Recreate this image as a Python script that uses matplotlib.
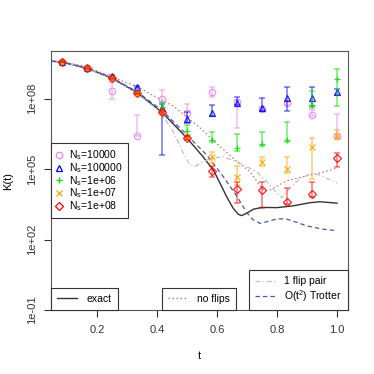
import numpy as np
import matplotlib
matplotlib.use('Agg')
import matplotlib.pyplot as plt
from matplotlib.lines import Line2D

plt.rcParams['font.family'] = ['Liberation Sans', 'DejaVu Sans']
plt.rcParams['mathtext.fontset'] = 'custom'
plt.rcParams['mathtext.rm'] = 'Liberation Sans'
plt.rcParams['mathtext.it'] = 'Liberation Sans:italic'

# sampled times t = k/12
t_pts = np.arange(1, 13) / 12.0

# log10 K(t) per sample size: point, lower end, upper end of error bar
ns_labels = [r'N$_\mathrm{s}$=10000', r'N$_\mathrm{s}$=100000', r'N$_\mathrm{s}$=1e+06',
             r'N$_\mathrm{s}$=1e+07', r'N$_\mathrm{s}$=1e+08']

ns1e4 = [9.56, 9.29, 8.34, 6.41, 8.00, 7.38, 8.30, 7.85, 7.57, 7.82, 7.31, 6.41]
ns1e4_lo = [9.55, 9.28, 7.97, 6.41, 7.52, 7.02, 8.09, 6.75, 7.50, 7.75, 7.25, 6.35]
ns1e4_hi = [9.57, 9.30, 8.72, 7.30, 8.37, 7.76, 8.48, 7.95, 7.65, 7.90, 7.50, 7.33]

ns1e5 = [9.56, 9.29, 8.95, 8.49, 7.60, 7.12, 7.39, 7.82, 7.62, 8.05, 8.04, 8.28]
ns1e5_lo = [9.55, 9.28, 8.90, 8.45, 5.60, 6.98, 7.27, 7.72, 7.48, 7.48, 7.69, 8.15]
ns1e5_hi = [9.57, 9.30, 9.00, 8.53, 7.78, 7.42, 7.75, 8.08, 8.04, 8.50, 8.50, 8.42]

ns1e6 = [9.56, 9.29, 8.87, 8.25, 7.65, 6.62, 6.24, 5.89, 6.08, 6.25, 7.72, 8.85]
ns1e6_lo = [9.55, 9.28, 8.85, 8.22, 7.45, 6.35, 6.17, 5.78, 6.00, 6.17, 7.62, 7.69]
ns1e6_hi = [9.57, 9.30, 8.89, 8.28, 7.85, 6.90, 6.58, 6.50, 6.60, 7.02, 8.33, 9.25]

ns1e7 = [9.56, 9.29, 8.87, 8.23, 7.42, 6.38, 5.53, 4.67, 5.29, 4.99, 5.96, 6.41]
ns1e7_lo = [9.55, 9.28, 8.85, 8.20, 7.38, 6.30, 5.25, 4.33, 5.14, 4.84, 4.60, 6.27]
ns1e7_hi = [9.57, 9.30, 8.89, 8.26, 7.46, 6.45, 5.74, 5.12, 5.50, 5.52, 6.31, 6.67]

ns1e8 = [9.56, 9.29, 8.87, 8.23, 7.42, 6.34, 4.92, 4.15, 4.11, 3.60, 3.92, 5.46]
ns1e8_lo = [9.55, 9.28, 8.85, 8.20, 7.38, 6.25, 4.68, 3.55, 3.33, 3.50, 3.80, 5.08]
ns1e8_hi = [9.57, 9.30, 8.89, 8.26, 7.46, 6.42, 5.15, 4.45, 4.47, 4.18, 4.47, 5.70]

# reference curves, log10 K(t)
t_exact = [0.0, 0.0833, 0.1667, 0.25, 0.3333, 0.4167, 0.5, 0.55, 0.588, 0.61, 0.632,
           0.654, 0.671, 0.682, 0.699, 0.721, 0.749, 0.8, 0.855, 0.91, 0.943, 1.0]
k_exact = [9.65, 9.56, 9.29, 8.87, 8.26, 7.42, 6.32, 5.58, 4.96, 4.40, 3.83,
           3.33, 3.08, 3.02, 3.12, 3.29, 3.37, 3.36, 3.44, 3.57, 3.61, 3.55]

t_noflip = [0.0, 0.0833, 0.158, 0.269, 0.343, 0.369, 0.454, 0.543, 0.61, 0.677, 0.71,
            0.743, 0.758, 0.775, 0.79, 0.832, 0.9, 0.954, 1.0]
k_noflip = [9.65, 9.57, 9.39, 8.83, 8.47, 8.26, 7.69, 6.77, 5.96, 5.20, 4.90,
            4.30, 4.08, 4.10, 4.20, 4.50, 4.72, 4.87, 5.05]

t_flip1 = [0.0, 0.0833, 0.1667, 0.25, 0.333, 0.41, 0.454, 0.488, 0.51, 0.527, 0.554,
           0.582, 0.621, 0.677, 0.732, 0.766, 0.8, 0.816, 0.843, 0.871, 0.91, 0.943, 1.0]
k_flip1 = [9.65, 9.56, 9.29, 8.87, 8.22, 7.45, 6.60, 5.67, 5.18, 5.12, 5.32,
           5.46, 5.53, 5.25, 4.89, 4.47, 3.97, 3.78, 4.18, 4.54, 4.80, 4.75, 4.40]

t_trotter = [0.0, 0.0833, 0.1667, 0.25, 0.333, 0.417, 0.5, 0.566, 0.621, 0.666, 0.699,
             0.72, 0.743, 0.766, 0.80, 0.83, 0.86, 0.90, 0.95, 1.0]
k_trotter = [9.65, 9.56, 9.30, 8.89, 8.30, 7.50, 6.45, 5.60, 4.68, 3.85, 3.15,
             2.85, 2.69, 2.76, 2.88, 2.88, 2.76, 2.58, 2.45, 2.38]

series = [(ns1e4, ns1e4_lo, ns1e4_hi, '#EE82EE', 'o'),
          (ns1e5, ns1e5_lo, ns1e5_hi, '#0000FF', '^'),
          (ns1e6, ns1e6_lo, ns1e6_hi, '#00E000', '+'),
          (ns1e7, ns1e7_lo, ns1e7_hi, '#FFA500', 'x'),
          (ns1e8, ns1e8_lo, ns1e8_hi, '#FF0000', 'D')]

fig = plt.figure(figsize=(3.74, 3.74), dpi=100)
ax = fig.add_axes([0.1364, 0.1711, 0.7941, 0.6925])

l_exact, = ax.plot(t_exact, 10 ** np.array(k_exact), color='#333333', lw=1.0)
l_noflip, = ax.plot(t_noflip, 10 ** np.array(k_noflip), color='#D07070', lw=0.9, ls=(0, (1.2, 2)))
l_flip1, = ax.plot(t_flip1, 10 ** np.array(k_flip1), color='#C0C0C0', lw=0.9, ls=(0, (4, 2, 1, 2)))
l_trotter, = ax.plot(t_trotter, 10 ** np.array(k_trotter), color='#5050B8', lw=0.9, ls=(0, (3.5, 2.5)))

handles = []
for vals, lo, hi, col, mk in series:
    v = 10 ** np.array(vals)
    err = [v - 10 ** np.array(lo), 10 ** np.array(hi) - v]
    ax.errorbar(t_pts, v, yerr=err, fmt='none', ecolor=col, alpha=0.55, elinewidth=1.1,
                capsize=2, capthick=1.1)
    ms = 3.8 if mk == 'D' else 4.6
    ax.plot(t_pts, v, ls='none', marker=mk, ms=ms, mfc='none', mec=col, mew=0.9, alpha=0.85)
    handles.append(Line2D([], [], ls='none', marker=mk, ms=ms, mfc='none', mec=col, mew=0.9))

ax.set_yscale('log')
ax.set_xlim(0.0467, 1.0367)
ax.set_ylim(1e-1, 10 ** 10.03)
ax.set_xticks([0.2, 0.4, 0.6, 0.8, 1.0])
ax.set_xticklabels(['0.2', '0.4', '0.6', '0.8', '1.0'])
ax.set_yticks([1e-1, 1e2, 1e5, 1e8])
ax.set_yticklabels(['1e-01', '1e+02', '1e+05', '1e+08'], rotation=90, va='center')
ax.minorticks_off()
ax.tick_params(direction='out', length=5, width=0.8, labelsize=8, colors='#333333', pad=5)
ax.tick_params(axis='x', pad=6)
for s in ax.spines.values():
    s.set_color('#555555')
    s.set_linewidth(0.8)
ax.set_xlabel('t', fontsize=8, labelpad=11)
ax.set_ylabel('K(t)', fontsize=8, labelpad=10)

leg_kw = dict(fontsize=7.5, fancybox=False, framealpha=1, edgecolor='#333333',
              borderaxespad=0, borderpad=0.6, handletextpad=0.9)

leg1 = ax.legend(handles, ns_labels, loc='upper left', bbox_to_anchor=(0, 0.644),
                 handlelength=0.6, labelspacing=-0.1, fontsize=7.5, fancybox=False,
                 framealpha=1, edgecolor='#333333', borderaxespad=0, borderpad=0.5,
                 handletextpad=0.6)
leg1.get_frame().set_linewidth(0.8)
ax.add_artist(leg1)

leg2 = ax.legend([l_exact], ['exact'], loc='lower left', bbox_to_anchor=(0, 0),
                 handlelength=1.9, **leg_kw)
leg2.get_frame().set_linewidth(0.8)
ax.add_artist(leg2)

leg3 = ax.legend([l_noflip], ['no flips'], loc='lower left', bbox_to_anchor=(0.373, 0),
                 handlelength=1.9, **leg_kw)
leg3.get_frame().set_linewidth(0.8)
ax.add_artist(leg3)

leg4 = ax.legend([l_flip1, l_trotter], ['1 flip pair', r'O(t$^2$) Trotter'], loc='lower right',
                 bbox_to_anchor=(1, 0), handlelength=1.9, labelspacing=0.15, **leg_kw)
leg4.get_frame().set_linewidth(0.8)

fig.savefig('out.png', dpi=100)
